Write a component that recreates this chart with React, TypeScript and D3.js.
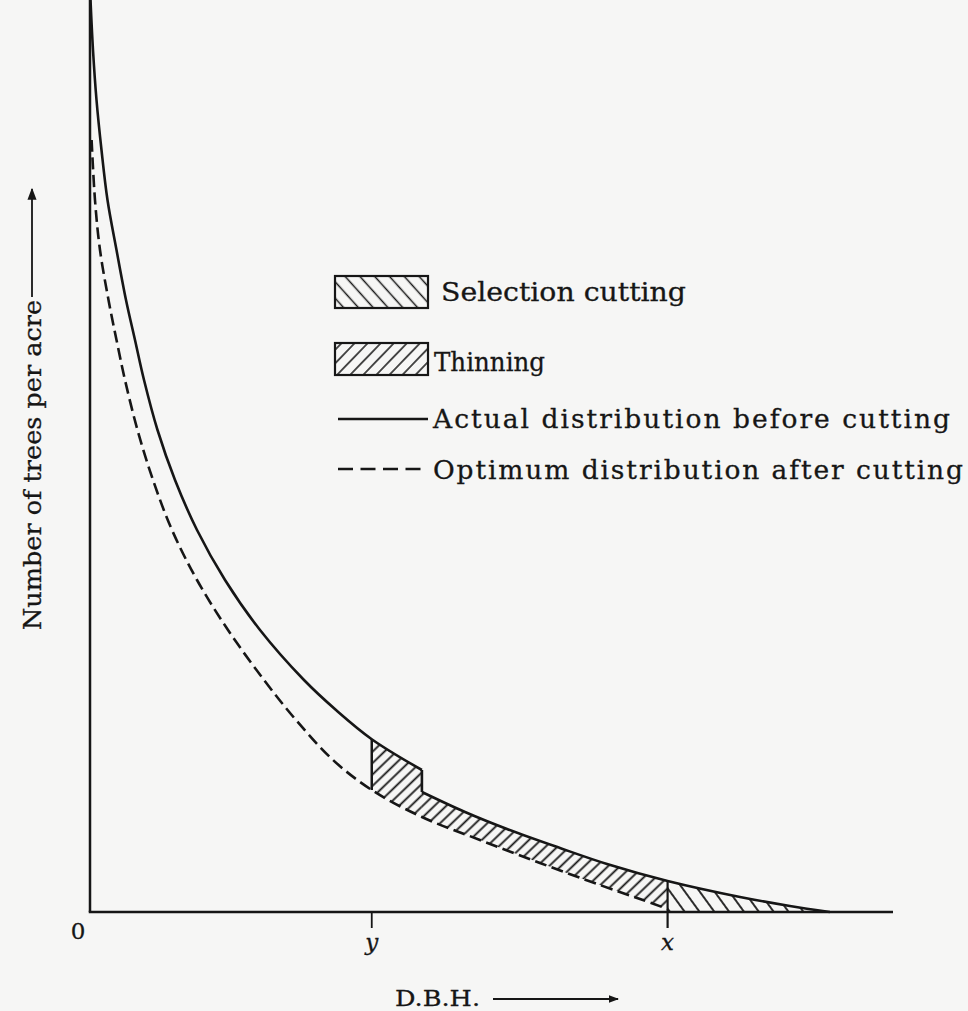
import React from "react";
import * as d3 from "d3";

// ---- data (D.B.H. units vs number of trees per acre) ----
const dbhDomain = [0, 28.5];
const treesDomain = [0, 114];

// Actual distribution before cutting (part up to the surplus step just above y)
const solidUpperDbh = [0.018, 0.106, 0.231, 0.408, 0.621, 0.941, 1.278, 1.597, 1.917, 2.396, 3.017, 3.798, 4.792, 6.034, 7.595, 8.731, 10.0, 11.78];
const solidUpperN = [114, 107.75, 101.5, 95.25, 89, 82.75, 76.5, 71.5, 66.5, 60.25, 54, 47.75, 41.5, 35.25, 29, 25.25, 21.6, 17.75];

// Actual distribution before cutting (after the step)
const solidLowerDbh = [11.78, 13.31, 14.8, 16.68, 18.35, 20.5, 23.07, 24.84, 26.26];
const solidLowerN = [15, 12.5, 10.375, 8, 6, 3.875, 1.875, 0.75, 0];

// Optimum distribution after cutting
const dashedDbh = [0.057, 0.177, 0.355, 0.657, 0.941, 1.242, 1.686, 2.236, 2.91, 3.798, 4.898, 6.176, 7.311, 8.625, 10.0, 11.78, 13.84, 15.97, 18.1, 19.52, 20.5];
const dashedN = [96.5, 89, 82.75, 76.5, 71.5, 66.5, 60.25, 54, 47.75, 41.5, 35.25, 29, 24, 19, 15.25, 11.875, 9, 6.125, 3.375, 1.625, 0.375];

const markY = 10.0; // "y" diameter
const markX = 20.5; // "x" maximum diameter
const tickLabels = ["0", "y", "x"];

const legendLabels = [
  "Selection cutting",
  "Thinning",
  "Actual distribution before cutting",
  "Optimum distribution after cutting",
];
const yTitle = "Number of trees per acre";
const xTitle = "D.B.H.";

// ---- layout ----
const W = 968;
const H = 1011;
const FONT = "'DejaVu Serif', serif";
const INK = "#161616";

export default function App() {
  const xs = d3.scaleLinear().domain(dbhDomain).range([90, 893]);
  const ys = d3.scaleLinear().domain(treesDomain).range([912, 0]);

  const zip = (a: number[], b: number[]) => a.map((v, i) => [v, b[i]] as [number, number]);
  const solidUpper = zip(solidUpperDbh, solidUpperN);
  const solidLower = zip(solidLowerDbh, solidLowerN);
  const dashed = zip(dashedDbh, dashedN);

  const curve = d3.curveCatmullRom.alpha(0.5);
  const line = d3
    .line<[number, number]>()
    .x((d) => xs(d[0]))
    .y((d) => ys(d[1]))
    .curve(curve);
  const area = d3
    .area<[number, number]>()
    .x((d) => xs(d[0]))
    .y0(ys(0))
    .y1((d) => ys(d[1]))
    .curve(curve);

  const valueAt = (dbh: number[], n: number[], x: number) => n[dbh.indexOf(x)];

  const x0 = xs(0);
  const y0 = ys(0);
  const yTop = ys(treesDomain[1]);
  const xEnd = xs(dbhDomain[1]);
  const stepDbh = solidLowerDbh[0];
  const selEnd = solidLowerDbh[solidLowerDbh.length - 1];

  const textProps = { fontFamily: FONT, fill: INK, stroke: INK, strokeWidth: 0.3 };

  return (
    <svg
      width={W}
      height={H}
      viewBox={`0 0 ${W} ${H}`}
      style={{ position: "absolute", left: 0, top: 0, display: "block" }}
    >
      <defs>
        <pattern id="hatchThin" patternUnits="userSpaceOnUse" width={8.2} height={10} patternTransform="rotate(46)">
          <line x1={4.1} y1={-1} x2={4.1} y2={11} stroke={INK} strokeWidth={1.8} />
        </pattern>
        <pattern id="hatchSel" patternUnits="userSpaceOnUse" width={12} height={10} patternTransform="rotate(-36)">
          <line x1={6} y1={-1} x2={6} y2={11} stroke={INK} strokeWidth={1.8} />
        </pattern>
        <pattern id="hatchSelLeg" patternUnits="userSpaceOnUse" width={11} height={10} patternTransform="rotate(-42)">
          <line x1={5.5} y1={-1} x2={5.5} y2={11} stroke={INK} strokeWidth={1.5} />
        </pattern>
        <pattern id="hatchThinLeg" patternUnits="userSpaceOnUse" width={9.4} height={10} patternTransform="rotate(44)">
          <line x1={4.7} y1={-1} x2={4.7} y2={11} stroke={INK} strokeWidth={1.5} />
        </pattern>
        <mask id="thinMask" maskUnits="userSpaceOnUse" x={0} y={0} width={W} height={H}>
          <rect x={0} y={0} width={W} height={H} fill="black" />
          <path d={area(solidUpper) || ""} fill="white" />
          <path d={area(solidLower) || ""} fill="white" />
          <path d={area(dashed) || ""} fill="black" />
        </mask>
        <mask id="selMask" maskUnits="userSpaceOnUse" x={0} y={0} width={W} height={H}>
          <rect x={0} y={0} width={W} height={H} fill="black" />
          <path d={area(solidLower) || ""} fill="white" />
        </mask>
        <marker id="arrowHead" viewBox="0 0 10 10" refX={9} refY={5} markerWidth={10} markerHeight={10} markerUnits="userSpaceOnUse" orient="auto">
          <path d="M0,1.2 L10,5 L0,8.8 Z" fill={INK} />
        </marker>
        <marker id="arrowHeadY" viewBox="0 0 10 10" refX={9} refY={5} markerWidth={12} markerHeight={12} markerUnits="userSpaceOnUse" orient="auto">
          <path d="M0,1.2 L10,5 L0,8.8 Z" fill={INK} />
        </marker>
      </defs>

      <rect x={0} y={0} width={W} height={H} fill="#f6f6f5" />

      {/* hatched regions */}
      <rect
        x={xs(markY)}
        y={yTop}
        width={xs(markX) - xs(markY)}
        height={y0 - yTop}
        fill="url(#hatchThin)"
        mask="url(#thinMask)"
      />
      <rect
        x={xs(markX)}
        y={yTop}
        width={xs(selEnd) - xs(markX)}
        height={y0 - yTop}
        fill="url(#hatchSel)"
        mask="url(#selMask)"
      />

      {/* axes */}
      <line x1={x0} y1={yTop} x2={x0} y2={y0} stroke={INK} strokeWidth={2.5} />
      <line x1={x0 - 1.25} y1={y0} x2={xEnd} y2={y0} stroke={INK} strokeWidth={2.5} />

      {/* curves */}
      <path d={line(solidUpper) || ""} fill="none" stroke={INK} strokeWidth={2.6} />
      <path d={line(solidLower) || ""} fill="none" stroke={INK} strokeWidth={2.6} />
      <line
        x1={xs(stepDbh)}
        y1={ys(solidUpperN[solidUpperN.length - 1])}
        x2={xs(stepDbh)}
        y2={ys(solidLowerN[0])}
        stroke={INK}
        strokeWidth={2.6}
      />
      <path d={line(dashed) || ""} fill="none" stroke={INK} strokeWidth={2.6} strokeDasharray="12 5.5" />

      {/* boundary verticals and ticks */}
      <line
        x1={xs(markY)}
        y1={ys(valueAt(solidUpperDbh, solidUpperN, markY))}
        x2={xs(markY)}
        y2={ys(valueAt(dashedDbh, dashedN, markY))}
        stroke={INK}
        strokeWidth={2.5}
      />
      <line x1={xs(markY)} y1={y0} x2={xs(markY)} y2={y0 + 16} stroke={INK} strokeWidth={1.8} />
      <line
        x1={xs(markX)}
        y1={ys(valueAt(solidLowerDbh, solidLowerN, markX))}
        x2={xs(markX)}
        y2={y0 + 16}
        stroke={INK}
        strokeWidth={2.2}
      />

      {/* tick labels */}
      <text x={x0 - 12} y={939} fontSize={23} textAnchor="middle" {...textProps}>
        {tickLabels[0]}
      </text>
      <text x={xs(markY)} y={950} fontSize={23} fontStyle="italic" textAnchor="middle" {...textProps}>
        {tickLabels[1]}
      </text>
      <text x={xs(markX)} y={950} fontSize={23} fontStyle="italic" textAnchor="middle" {...textProps}>
        {tickLabels[2]}
      </text>

      {/* axis titles */}
      <text
        transform="translate(41,630) rotate(-90)"
        fontSize={25}
        textLength={330}
        lengthAdjust="spacingAndGlyphs"
        {...textProps}
      >
        {yTitle}
      </text>
      <line x1={32} y1={297} x2={32} y2={189} stroke={INK} strokeWidth={1.8} markerEnd="url(#arrowHeadY)" />

      <text x={395} y={1006} fontSize={22} textLength={85} lengthAdjust="spacingAndGlyphs" {...textProps}>
        {xTitle}
      </text>
      <line x1={493} y1={999} x2={618} y2={999} stroke={INK} strokeWidth={1.8} markerEnd="url(#arrowHead)" />

      {/* legend */}
      <rect x={335} y={276} width={93} height={32} fill="url(#hatchSelLeg)" stroke={INK} strokeWidth={2.2} />
      <text x={441} y={301} fontSize={26} textLength={245} lengthAdjust="spacingAndGlyphs" {...textProps}>
        {legendLabels[0]}
      </text>
      <rect x={335} y={343} width={93} height={32} fill="url(#hatchThinLeg)" stroke={INK} strokeWidth={2.2} />
      <text x={434} y={371} fontSize={26} textLength={111} lengthAdjust="spacingAndGlyphs" {...textProps}>
        {legendLabels[1]}
      </text>
      <line x1={338} y1={419} x2={428} y2={419} stroke={INK} strokeWidth={2.4} />
      <text x={433} y={428} fontSize={26.5} textLength={517} lengthAdjust="spacing" {...textProps}>
        {legendLabels[2]}
      </text>
      <line x1={338} y1={469} x2={428} y2={469} stroke={INK} strokeWidth={2.4} strokeDasharray="15 7.5" />
      <text x={433} y={479} fontSize={26.5} textLength={530} lengthAdjust="spacing" {...textProps}>
        {legendLabels[3]}
      </text>
    </svg>
  );
}
